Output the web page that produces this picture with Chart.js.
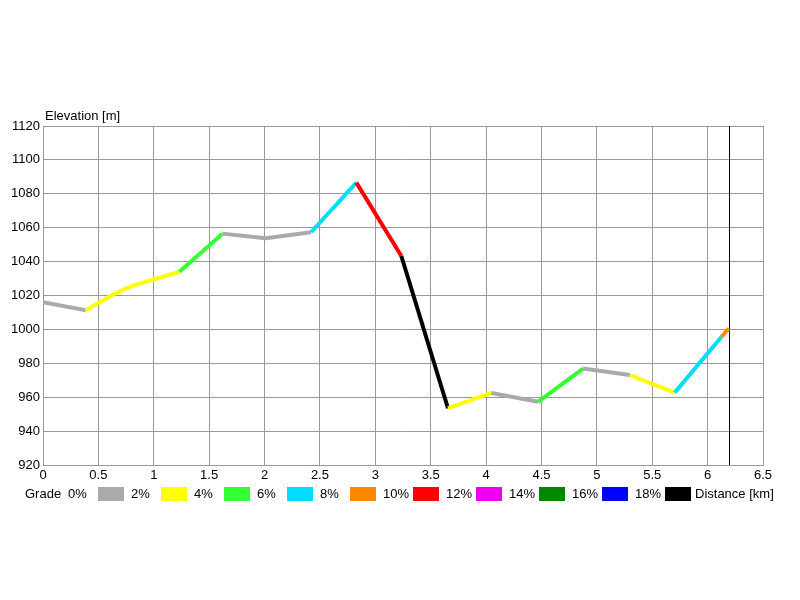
<!DOCTYPE html>
<html><head><meta charset="utf-8">
<script src="https://cdn.jsdelivr.net/npm/chart.js@4.4.0/dist/chart.umd.min.js"></script>
<style>html,body{margin:0;padding:0;background:#fff}</style>
</head><body>
<canvas id="c" width="800" height="600"></canvas>
<script>
// Route profile points
const distanceKm = [0, 0.386, 0.63, 0.81, 1.232, 1.62, 2.01, 2.42, 2.829, 3.235, 3.656, 4.048, 4.469, 4.875, 5.297, 5.703, 6.124, 6.19];
const elevationM = [1016, 1011.3, 1020.5, 1025.8, 1034, 1056.5, 1053.8, 1057.3, 1086.6, 1043.3, 953.5, 962.5, 957.3, 976.9, 973.1, 962.7, 995.5, 1000.5];
// grade bin (lower bound, %) of each segment between consecutive points
const segmentGrade = [0, 2, 2, 2, 4, 0, 0, 6, 10, 18, 2, 0, 4, 0, 2, 6, 8];
// legend grade bins and colours
const gradeBins = [0, 2, 4, 6, 8, 10, 12, 14, 16, 18];
const gradeLabels = ['2%', '4%', '6%', '8%', '10%', '12%', '14%', '16%', '18%', ''];
const gradeColors = ['#aaaaaa', '#ffff00', '#33ff33', '#00ddff', '#ff8800', '#ff0000', '#ee00ee', '#008800', '#0000ff', '#000000'];
// axis ranges
const xRange = [0, 6.5, 0.5];
const yRange = [920, 1120, 20];

const FONT = '13px "Liberation Sans", Arial, sans-serif';
Chart.defaults.font.family = '"Liberation Sans", Arial, sans-serif';
Chart.defaults.font.size = 13;
Chart.defaults.color = '#000';

const fmt = v => String(Math.round(v * 100) / 100);

const overlay = {
  id: 'overlay',
  beforeDatasetsDraw(chart) {
    const {ctx, chartArea, scales} = chart;
    const xEnd = scales.x.getPixelForValue(distanceKm[distanceKm.length - 1]);
    ctx.save();
    ctx.strokeStyle = '#000';
    ctx.lineWidth = 1;
    ctx.beginPath();
    ctx.moveTo(Math.round(xEnd) + 0.5, chartArea.top);
    ctx.lineTo(Math.round(xEnd) + 0.5, chartArea.bottom);
    ctx.stroke();
    ctx.restore();
  },
  afterDraw(chart) {
    const {ctx, chartArea} = chart;
    ctx.save();
    ctx.font = FONT;
    ctx.fillStyle = '#000';
    ctx.textBaseline = 'middle';
    ctx.textAlign = 'left';
    ctx.fillText('Elevation [m]', chartArea.left + 2, chartArea.top - 10);
    // legend row
    const ly = 494;
    ctx.fillText('Grade', 25, ly);
    ctx.fillText('0%', 68, ly);
    let x = 98;
    for (let i = 0; i < gradeBins.length; i++) {
      ctx.fillStyle = gradeColors[i];
      ctx.fillRect(x, 487, 26, 14);
      ctx.fillStyle = '#000';
      if (gradeLabels[i]) ctx.fillText(gradeLabels[i], x + 33, ly);
      x += 63;
    }
    ctx.fillText('Distance [km]', 695, ly);
    ctx.restore();
  }
};

new Chart(document.getElementById('c'), {
  type: 'line',
  data: {
    datasets: [{
      data: distanceKm.map((d, i) => ({x: d, y: elevationM[i]})),
      borderWidth: 4,
      pointRadius: 0,
      tension: 0,
      fill: false,
      borderCapStyle: 'butt',
      borderJoinStyle: 'round',
      borderColor: gradeColors[0],
      segment: {
        borderColor: c => gradeColors[gradeBins.indexOf(segmentGrade[c.p0DataIndex])]
      }
    }]
  },
  options: {
    responsive: false,
    animation: false,
    layout: {padding: {top: 126, right: 37, bottom: 0, left: 0}},
    plugins: {legend: {display: false}, tooltip: {enabled: false}},
    scales: {
      x: {
        type: 'linear', min: xRange[0], max: xRange[1],
        ticks: {stepSize: xRange[2], autoSkip: false, maxRotation: 0, padding: 3, color: '#000', callback: fmt},
        grid: {color: '#999999', drawTicks: false},
        border: {color: '#999999'},
        afterFit(s) { s.height = 135; }
      },
      y: {
        type: 'linear', min: yRange[0], max: yRange[1],
        ticks: {stepSize: yRange[2], padding: 3, color: '#000', callback: fmt},
        grid: {color: '#999999', drawTicks: false},
        border: {color: '#999999'},
        afterFit(s) { s.width = 43; }
      }
    }
  },
  plugins: [overlay]
});
</script>
</body></html>
